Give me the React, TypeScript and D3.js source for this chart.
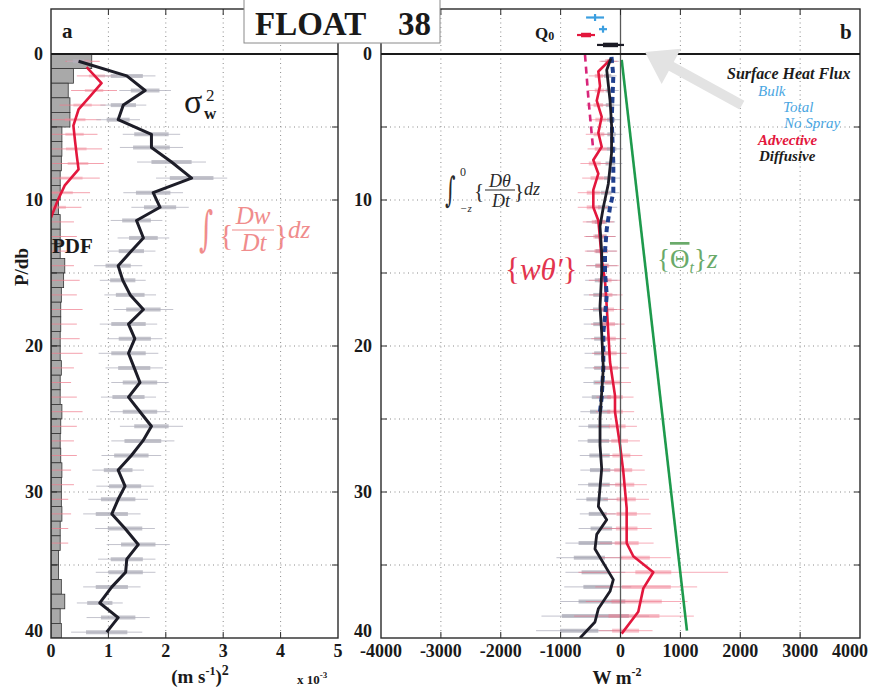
import React, { useEffect, useRef } from "react";
import * as d3 from "d3";

// depth bins, db
const bins = [0.5, 1.5, 2.5, 3.5, 4.5, 5.5, 6.5, 7.5, 8.5, 9.5, 10.5, 11.5, 12.5, 13.5, 14.5, 15.5, 16.5, 17.5, 18.5, 19.5,
  20.5, 21.5, 22.5, 23.5, 24.5, 25.5, 26.5, 27.5, 28.5, 29.5, 30.5, 31.5, 32.5, 33.5, 34.5, 35.5, 36.5, 37.5, 38.5, 39.5];

// panel a: PDF of float pressure (per 1 db bin)
const pdf = [0.71, 0.39, 0.3, 0.33, 0.33, 0.19, 0.19, 0.18, 0.16, 0.16, 0.13, 0.16, 0.16, 0.16, 0.24, 0.22, 0.18, 0.17, 0.17, 0.16,
  0.16, 0.18, 0.16, 0.16, 0.19, 0.17, 0.16, 0.17, 0.19, 0.18, 0.18, 0.19, 0.16, 0.16, 0.13, 0.13, 0.18, 0.24, 0.16, 0.18];

// panel a: sigma_w^2 (x 10^-3 (m/s)^2)
const sigmaP = [0.5, 1.5, 2.5, 3.5, 4.5, 5.5, 6.4, 7.4, 8.5, 9.5, 10.5, 11.4, 12.6, 13.5, 14.5, 15.5, 16.5, 17.5, 18.5, 19.5,
  20.5, 21.5, 22.5, 23.5, 24.5, 25.5, 26.5, 27.5, 28.5, 29.6, 30.5, 31.5, 32.5, 33.6, 34.6, 35.5, 36.5, 37.6, 38.6, 39.6];
const sigmaV = [0.48, 1.32, 1.64, 1.26, 1.17, 1.75, 1.75, 2.1, 2.45, 1.78, 1.9, 1.49, 1.61, 1.4, 1.17, 1.25, 1.38, 1.61, 1.35, 1.46,
  1.35, 1.45, 1.55, 1.35, 1.55, 1.75, 1.6, 1.4, 1.17, 1.29, 1.17, 1.06, 1.29, 1.52, 1.32, 1.3, 1.06, 0.85, 1.17, 0.97];
const sigmaThick = [0.1, 0.28, 0.25, 0.22, 0.2, 0.3, 0.32, 0.35, 0.38, 0.3, 0.28, 0.25, 0.25, 0.22, 0.22, 0.22, 0.25, 0.3, 0.3, 0.28,
  0.3, 0.28, 0.3, 0.28, 0.3, 0.3, 0.32, 0.3, 0.25, 0.28, 0.3, 0.28, 0.3, 0.3, 0.28, 0.3, 0.28, 0.22, 0.3, 0.36];
const sigmaThin = [0.2, 0.5, 0.45, 0.4, 0.38, 0.5, 0.55, 0.6, 0.62, 0.52, 0.5, 0.45, 0.45, 0.42, 0.42, 0.4, 0.45, 0.52, 0.5, 0.48,
  0.52, 0.5, 0.5, 0.48, 0.52, 0.55, 0.55, 0.52, 0.45, 0.5, 0.52, 0.5, 0.52, 0.55, 0.5, 0.52, 0.5, 0.4, 0.55, 0.62];

// panel a: integral of Dw/Dt
const dwP = [0.9, 2.0, 2.9, 3.8, 4.9, 6.0, 7.0, 7.9, 9.0, 10.0, 11.2];
const dwV = [0.62, 0.88, 0.68, 0.48, 0.39, 0.42, 0.45, 0.48, 0.24, 0.12, 0.0];
const dwErrC = [0.55, 0.8, 0.75, 0.55, 0.42, 0.41, 0.44, 0.47, 0.35, 0.18, 0.08, 0, 0, 0, 0, 0, 0, 0, 0, 0,
  0, 0, 0, 0, 0, 0, 0, 0, 0, 0, 0, 0, 0, 0];
const dwErrHw = [0.3, 0.35, 0.4, 0.4, 0.45, 0.4, 0.45, 0.45, 0.5, 0.5, 0.45, 0.4, 0.45, 0.35, 0.4, 0.5, 0.45, 0.55, 0.45, 0.5,
  0.55, 0.4, 0.35, 0.45, 0.55, 0.45, 0.4, 0.45, 0.35, 0.4, 0.3, 0.35, 0.3, 0.3];

// panel b: {w theta'} (W m^-2)
const wthP = [0.4, 1.2, 2.2, 3.2, 4.3, 5.4, 6.35, 7.26, 8.2, 9.3, 10.5, 11.4, 12.7, 14.1, 15.5, 17.3, 19.1, 21.1, 23.4, 24.5,
  26.8, 28.6, 31.1, 33.5, 34.4, 35.5, 36.6, 38.2, 39.7];
const wthV = [-175, -370, -342, -397, -314, -370, -314, -454, -370, -454, -454, -370, -342, -314, -259, -230, -204, -175, -92, -92,
  -8, 47, 103, 103, 214, 548, 381, 297, 20];

// panel b: integral of D theta/Dt
const dthP = [0.3, 1.1, 3.15, 5.0, 6.8, 8.9, 10.5, 11.8, 13.6, 15.0, 17.3, 19.1, 21.5, 24.95, 26.8, 28.4, 31.0, 31.9, 32.9, 33.9,
  36.0, 36.8, 38.0, 38.9, 40.0];
const dthV = [-160, -230, -175, -147, -150, -204, -287, -342, -314, -314, -342, -314, -287, -342, -342, -314, -370, -230, -397, -426,
  -120, -175, -370, -426, -676];

// panel b: total (dark blue dashed) and advective (magenta dashed) estimates
const totP = [0.2, 1.5, 4.5, 7.5, 9.5, 10.5, 12, 13.5, 15, 16.5, 18, 19.1, 21.5, 23.5, 24.5];
const totV = [-150, -120, -147, -120, -120, -175, -230, -259, -259, -230, -259, -287, -287, -314, -342];
const advP = [0.05, 3.0, 5.5, 6.6];
const advV = [-593, -537, -481, -454];

// panel b: {Theta_t} z
const thetaP = [0.4, 39.5];
const thetaV = [20, 1110];

// panel b error bars per bin
const grayC = [-170, -215, -190, -175, -160, -150, -150, -170, -195, -240, -285, -330, -330, -315, -314, -320, -335, -340, -325, -310,
  -300, -290, -300, -320, -340, -360, -370, -350, -340, -360, -390, -380, -320, -420, -520, -420, -380, -310, -420, -690];
const grayThick = [60, 60, 60, 70, 70, 70, 80, 80, 80, 90, 90, 100, 100, 100, 110, 110, 120, 120, 130, 130,
  140, 150, 150, 160, 170, 180, 180, 170, 170, 180, 180, 150, 180, 280, 260, 230, 240, 390, 560, 320];
const grayThin = [150, 150, 160, 170, 170, 180, 190, 200, 200, 220, 230, 240, 250, 250, 260, 270, 280, 280, 290, 300,
  300, 310, 320, 320, 330, 340, 340, 330, 330, 350, 350, 300, 380, 500, 550, 500, 560, 700, 900, 720];
const pinkC = [-200, -360, -350, -370, -330, -360, -330, -430, -390, -454, -454, -370, -345, -325, -300, -259, -245, -228, -212, -198,
  -184, -160, -125, -92, -92, -55, -15, 15, 45, 70, 95, 103, 103, 103, 240, 548, 430, 270, 225, 85];
const pinkThick = [60, 70, 80, 80, 90, 90, 100, 100, 110, 110, 110, 110, 110, 110, 110, 110, 110, 120, 120, 120,
  120, 120, 130, 130, 130, 140, 140, 150, 150, 160, 160, 170, 180, 200, 250, 300, 410, 420, 425, 225];
const pinkThin = [150, 170, 180, 200, 200, 220, 220, 240, 250, 260, 260, 260, 260, 270, 270, 270, 280, 280, 280, 290,
  290, 300, 300, 310, 320, 330, 340, 350, 360, 370, 380, 400, 420, 450, 600, 1250, 850, 850, 1000, 450];

// surface heat flux Q0 markers (W m^-2), drawn above the surface
const q0Names = ["Bulk", "Total", "Advective", "Diffusive"];
const q0Center = [-425, -292, -576, -167];
const q0Thin = [150, 67, 150, 225];
const q0Thick = [0, 0, 83, 125];
const q0Level = [-2.5, -1.7, -1.3, -0.62];
const q0Color = ["#3b9fe0", "#3b9fe0", "#e3173d", "#1b1b25"];

// legend
const legendLabels = ["Surface Heat Flux", "Bulk", "Total", "No Spray", "Advective", "Diffusive"];
const legendColors = ["#1b1b1b", "#4aa6e2", "#4aa6e2", "#4aa6e2", "#e3173d", "#1b1b1b"];

const tickP = [0, 10, 20, 30, 40];
const gridP = [5, 10, 15, 20, 25, 30, 35];
const ticksA = [0, 1, 2, 3, 4, 5];
const ticksB = [-4000, -3000, -2000, -1000, 0, 1000, 2000, 3000, 4000];

const serif = "'Liberation Serif', 'Times New Roman', serif";

export default function App() {
  const svgRef = useRef<SVGSVGElement>(null);

  useEffect(() => {
    document.body.style.margin = "0";
    const svg = d3.select(svgRef.current);
    svg.selectAll("*").remove();

    const frameTop = 9;
    const y = d3.scaleLinear().domain([0, 40]).range([54, 638]);
    const xA = d3.scaleLinear().domain([0, 5]).range([51, 338]);
    const xB = d3.scaleLinear().domain([-4000, 4000]).range([381, 860]);

    const txt = (g: any, x: number, yy: number, s: string, size: number, o: any = {}) =>
      g.append("text")
        .attr("x", x).attr("y", yy)
        .attr("font-family", o.family || serif)
        .attr("font-size", size)
        .attr("font-weight", o.bold ? "bold" : "normal")
        .attr("font-style", o.italic ? "italic" : "normal")
        .attr("text-anchor", o.anchor || "start")
        .attr("fill", o.fill || "#1a1a1a")
        .text(s);
    // tall, narrow integral sign
    const integral = (x: number, yy: number, size: number, fill: string) =>
      svg.append("text")
        .attr("transform", `translate(${x},${yy}) scale(0.8,1.4)`)
        .attr("font-family", "'DejaVu Serif', serif")
        .attr("font-size", size)
        .attr("fill", fill)
        .text("\u222b");

    const defs = svg.append("defs");
    defs.append("clipPath").attr("id", "clipA").append("rect")
      .attr("x", xA(0)).attr("y", y(0)).attr("width", xA(5) - xA(0)).attr("height", y(40) - y(0));
    defs.append("clipPath").attr("id", "clipB").append("rect")
      .attr("x", xB(-4000)).attr("y", y(0)).attr("width", xB(4000) - xB(-4000)).attr("height", y(40) - y(0));

    // dotted grid of one panel
    function grid(x: any, xt: number[], x0: number, x1: number) {
      const g = svg.append("g");
      g.selectAll(null).data(xt.slice(1, -1)).join("line")
        .attr("x1", d => x(d)).attr("x2", d => x(d))
        .attr("y1", frameTop).attr("y2", y(40))
        .attr("stroke", "#8a8a8a").attr("stroke-dasharray", "1,3.5");
      g.selectAll(null).data(gridP).join("line")
        .attr("x1", x(x0)).attr("x2", x(x1))
        .attr("y1", d => y(d)).attr("y2", d => y(d))
        .attr("stroke", "#8a8a8a").attr("stroke-dasharray", "1,3.5");
    }
    // box, surface line and inward ticks
    function frame(x: any, xt: number[], x0: number, x1: number) {
      const g = svg.append("g");
      g.append("rect")
        .attr("x", x(x0)).attr("y", frameTop)
        .attr("width", x(x1) - x(x0)).attr("height", y(40) - frameTop)
        .attr("fill", "none").attr("stroke", "#2a2a2a").attr("stroke-width", 1.4);
      g.append("line")
        .attr("x1", x(x0)).attr("x2", x(x1)).attr("y1", y(0)).attr("y2", y(0))
        .attr("stroke", "#1a1a1a").attr("stroke-width", 2);
      xt.slice(1, -1).forEach(t => {
        g.append("line").attr("x1", x(t)).attr("x2", x(t)).attr("y1", frameTop).attr("y2", frameTop + 6).attr("stroke", "#2a2a2a");
        g.append("line").attr("x1", x(t)).attr("x2", x(t)).attr("y1", y(40)).attr("y2", y(40) - 6).attr("stroke", "#2a2a2a");
      });
      gridP.forEach(p => {
        g.append("line").attr("x1", x(x0)).attr("x2", x(x0) + 6).attr("y1", y(p)).attr("y2", y(p)).attr("stroke", "#2a2a2a");
        g.append("line").attr("x1", x(x1)).attr("x2", x(x1) - 6).attr("y1", y(p)).attr("y2", y(p)).attr("stroke", "#2a2a2a");
      });
    }
    function errBars(g: any, x: any, ps: number[], cs: number[], hws: number[], color: string, w: number, op: number) {
      g.selectAll(null).data(ps).join("line")
        .attr("x1", (d: number, i: number) => x(cs[i] - hws[i]))
        .attr("x2", (d: number, i: number) => x(cs[i] + hws[i]))
        .attr("y1", (d: number) => y(d)).attr("y2", (d: number) => y(d))
        .attr("stroke", color).attr("stroke-width", w).attr("stroke-opacity", op);
    }
    const line = (x: any) => d3.line<[number, number]>().x(d => x(d[1])).y(d => y(d[0]));
    const zip = (a: number[], b: number[]) => a.map((p, i) => [p, b[i]] as [number, number]);

    // ---------- panel a ----------
    grid(xA, ticksA, 0, 5);
    const ga = svg.append("g").attr("clip-path", "url(#clipA)");
    ga.selectAll(null).data(pdf).join("rect")
      .attr("x", xA(0)).attr("y", (d, i) => y(i))
      .attr("width", d => xA(d) - xA(0)).attr("height", (d, i) => y(i + 1) - y(i))
      .attr("fill", "#a9a9a9").attr("stroke", "#333").attr("stroke-width", 0.8);
    errBars(ga, xA, bins.slice(0, dwErrC.length), dwErrC, dwErrHw, "#f07a8c", 1, 0.7);
    errBars(ga, xA, bins.slice(0, 11), dwErrC, dwErrHw.map(h => h * 0.4), "#f0899a", 3, 0.45);
    errBars(ga, xA, sigmaP, sigmaV, sigmaThin, "#b4b4c0", 1, 0.8);
    errBars(ga, xA, sigmaP, sigmaV, sigmaThick, "#b0b0bb", 4, 0.75);
    ga.append("path").attr("d", line(xA)(zip(dwP, dwV)))
      .attr("fill", "none").attr("stroke", "#e3173d").attr("stroke-width", 2.6).attr("stroke-linejoin", "round");
    ga.append("path").attr("d", line(xA)(zip(sigmaP, sigmaV)))
      .attr("fill", "none").attr("stroke", "#1d1d28").attr("stroke-width", 3).attr("stroke-linejoin", "round");
    frame(xA, ticksA, 0, 5);

    // ---------- panel b ----------
    grid(xB, ticksB, -4000, 4000);
    const gb = svg.append("g").attr("clip-path", "url(#clipB)");
    errBars(gb, xB, bins, grayC, grayThin, "#a8a8b8", 1, 0.7);
    errBars(gb, xB, bins, grayC, grayThick, "#a0a0ae", 4, 0.65);
    errBars(gb, xB, bins, pinkC, pinkThin, "#f06a80", 1, 0.55);
    errBars(gb, xB, bins, pinkC, pinkThick, "#f07d90", 4, 0.45);
    svg.append("line")
      .attr("x1", xB(0)).attr("x2", xB(0)).attr("y1", frameTop).attr("y2", y(40))
      .attr("stroke", "#5a5a5a").attr("stroke-width", 1.3);
    gb.append("path").attr("d", line(xB)(zip(advP, advV)))
      .attr("fill", "none").attr("stroke", "#d8267a").attr("stroke-width", 2.6).attr("stroke-dasharray", "7,5");
    gb.append("path").attr("d", line(xB)(zip(thetaP, thetaV)))
      .attr("fill", "none").attr("stroke", "#1e9a4c").attr("stroke-width", 2.6);
    gb.append("path").attr("d", line(xB)(zip(wthP, wthV)))
      .attr("fill", "none").attr("stroke", "#e3173d").attr("stroke-width", 2.6).attr("stroke-linejoin", "round");
    gb.append("path").attr("d", line(xB)(zip(totP, totV)))
      .attr("fill", "none").attr("stroke", "#1f3f8e").attr("stroke-width", 4).attr("stroke-dasharray", "6,4");
    gb.append("path").attr("d", line(xB)(zip(dthP, dthV)))
      .attr("fill", "none").attr("stroke", "#1d1d28").attr("stroke-width", 2.8).attr("stroke-linejoin", "round");
    frame(xB, ticksB, -4000, 4000);

    // surface flux markers
    const gq = svg.append("g");
    q0Names.forEach((n, i) => {
      const yy = y(q0Level[i]);
      gq.append("line").attr("x1", xB(q0Center[i] - q0Thin[i])).attr("x2", xB(q0Center[i] + q0Thin[i]))
        .attr("y1", yy).attr("y2", yy).attr("stroke", q0Color[i]).attr("stroke-width", 2.2);
      if (q0Thick[i] > 0) {
        gq.append("line").attr("x1", xB(q0Center[i] - q0Thick[i])).attr("x2", xB(q0Center[i] + q0Thick[i]))
          .attr("y1", yy).attr("y2", yy).attr("stroke", q0Color[i]).attr("stroke-width", 4.5);
      } else {
        gq.append("line").attr("x1", xB(q0Center[i])).attr("x2", xB(q0Center[i]))
          .attr("y1", yy - 3.5).attr("y2", yy + 3.5).attr("stroke", q0Color[i]).attr("stroke-width", 2.2);
      }
    });
    const q = txt(svg, 535, 39, "Q", 17, { bold: true });
    q.append("tspan").attr("font-size", 12).attr("dy", 1).text("0");

    // gray arrow pointing at the surface line
    const tail: [number, number] = [xB(2028), y(3.5)];
    const tip: [number, number] = [xB(409), y(-0.14)];
    const dx = tip[0] - tail[0], dy = tip[1] - tail[1];
    const len = Math.hypot(dx, dy);
    const ux = dx / len, uy = dy / len, nx = -uy, ny = ux;
    const hl = 30, hw = 20, sw = 5;
    const bx = tip[0] - ux * hl, by = tip[1] - uy * hl;
    const pts = [
      [tail[0] + nx * sw, tail[1] + ny * sw], [bx + nx * sw, by + ny * sw], [bx + nx * hw, by + ny * hw],
      tip, [bx - nx * hw, by - ny * hw], [bx - nx * sw, by - ny * sw], [tail[0] - nx * sw, tail[1] - ny * sw]
    ];
    svg.append("path").attr("d", "M" + pts.map(p => p.join(",")).join("L") + "Z").attr("fill", "#e3e3e3");

    // legend
    const legX = [727, 758, 783, 784, 758, 759];
    const legY = [79, 96, 112, 128, 145, 161];
    legendLabels.forEach((s, i) => {
      txt(svg, legX[i], legY[i], s, i === 0 ? 16 : 15, { italic: true, bold: i === 0 || i > 3, fill: legendColors[i] });
    });

    // tick labels (bottom one sits above the axis)
    tickP.forEach(t => {
      const yy = t === 40 ? y(t) - 1 : y(t) + 6;
      txt(svg, 43, yy, String(t), 18, { bold: true, anchor: "end" });
      txt(svg, 372, yy, String(t), 18, { bold: true, anchor: "end" });
    });
    ticksA.forEach(t => txt(svg, xA(t), 657, String(t), 18, { bold: true, anchor: "middle" }));
    ticksB.forEach(t => {
      const last = t === ticksB[ticksB.length - 1];
      txt(svg, last ? 868 : xB(t), 657, String(t), 18, { bold: true, anchor: last ? "end" : "middle" });
    });

    // axis labels
    txt(svg, 0, 0, "P/db", 19, { bold: true, anchor: "middle" }).attr("transform", "translate(28,267) rotate(-90)");
    const la = txt(svg, 200, 683, "(m s", 19, { bold: true, anchor: "middle" });
    la.append("tspan").attr("font-size", 12).attr("dy", -8).text("-1");
    la.append("tspan").attr("dy", 8).text(")");
    la.append("tspan").attr("font-size", 14).attr("dy", -8).text("2");
    const lx = txt(svg, 297, 684, "x 10", 13, { bold: true });
    lx.append("tspan").attr("font-size", 9).attr("dy", -6).text("-3");
    const lb = txt(svg, 617, 684, "W m", 19, { bold: true, anchor: "middle" });
    lb.append("tspan").attr("font-size", 12).attr("dy", -8).text("-2");

    // panel letters, title
    txt(svg, 62, 38, "a", 21, { bold: true });
    txt(svg, 840, 39, "b", 21, { bold: true });
    svg.append("rect").attr("x", 244).attr("y", -1).attr("width", 196).attr("height", 44)
      .attr("fill", "#fff").attr("stroke", "#8a8a8a");
    txt(svg, 255, 35, "FLOAT", 33, { bold: true });
    txt(svg, 398, 35, "38", 33, { bold: true });

    // panel a annotations
    txt(svg, 184, 113, "\u03c3", 34);
    txt(svg, 206, 101, "2", 17);
    txt(svg, 204, 119, "w", 17, { bold: true });
    txt(svg, 52, 253, "PDF", 21, { bold: true });
    const pink = "#f08c8c";
    integral(199, 245, 34, pink);
    txt(svg, 219, 245, "{", 30, { fill: pink });
    txt(svg, 253, 224, "Dw", 25, { italic: true, fill: pink, anchor: "middle" });
    svg.append("line").attr("x1", 232).attr("x2", 274).attr("y1", 230).attr("y2", 230).attr("stroke", pink).attr("stroke-width", 1.2);
    txt(svg, 254, 251, "Dt", 25, { italic: true, fill: pink, anchor: "middle" });
    txt(svg, 274, 245, "}", 30, { fill: pink });
    txt(svg, 288, 238, "dz", 25, { italic: true, fill: pink });

    // panel b annotations
    const ink = "#2a2a2a";
    integral(445, 202, 25, ink);
    txt(svg, 460, 176, "0", 12, { fill: ink });
    txt(svg, 460, 212, "\u2212z", 11, { italic: true, fill: ink });
    txt(svg, 474, 198, "{", 21, { fill: ink });
    txt(svg, 500, 187, "D\u03b8", 18, { italic: true, fill: ink, anchor: "middle" });
    svg.append("line").attr("x1", 485).attr("x2", 515).attr("y1", 190).attr("y2", 190).attr("stroke", ink).attr("stroke-width", 1);
    txt(svg, 501, 207, "Dt", 18, { italic: true, fill: ink, anchor: "middle" });
    txt(svg, 514, 198, "}", 21, { fill: ink });
    txt(svg, 524, 195, "dz", 18, { italic: true, fill: ink });

    const red = "#e2344e";
    const wt = txt(svg, 505, 280, "{", 31, { fill: red });
    wt.append("tspan").attr("font-style", "italic").text("w\u03b8\u2032");
    wt.append("tspan").text("}");

    const green = "#6aaa6a";
    const th = txt(svg, 657, 268, "{", 27, { fill: green });
    th.append("tspan").attr("text-decoration", "overline").text("\u0398");
    th.append("tspan").attr("font-style", "italic").attr("font-size", 16).attr("dy", 5).text("t");
    th.append("tspan").attr("dy", -5).text("}");
    th.append("tspan").attr("font-style", "italic").text("z");
  }, []);

  return <svg ref={svgRef} width={873} height={691} style={{ display: "block", background: "#fff" }} />;
}
